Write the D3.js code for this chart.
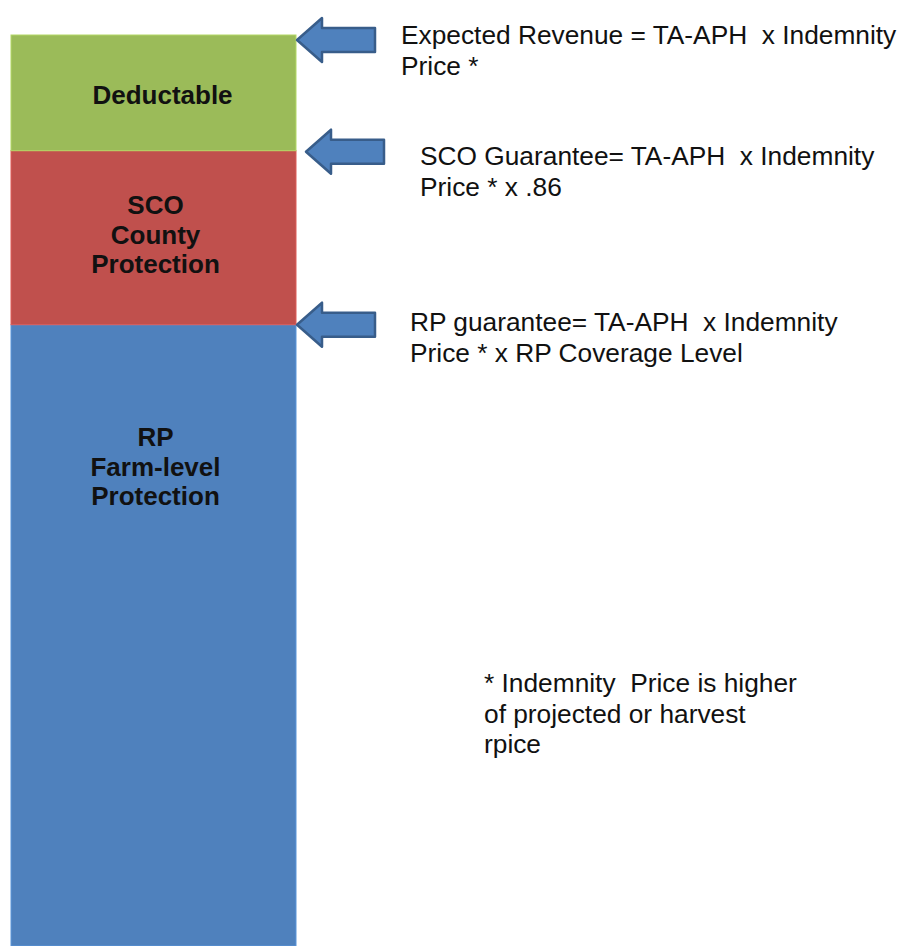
<!DOCTYPE html>
<html>
<head>
<meta charset="utf-8">
<script src="https://cdn.jsdelivr.net/npm/d3@7"></script>
<style>
  html, body { margin: 0; padding: 0; background: #fff; }
  svg { display: block; }
  .seg-label { font-family: "Liberation Sans", Arial, sans-serif; font-weight: bold; font-size: 26px; fill: #111; }
  .note { font-family: "Liberation Sans", Arial, sans-serif; font-size: 26.3px; fill: #111; white-space: pre; }
</style>
</head>
<body>
<div id="chart"></div>
<script>
// segments, bottom to top (share of bar height, %)
const segments = ["RP", "SCO", "Deductable"];
const segmentValues = [68.2, 19.1, 12.7];
const segmentColors = ["#4F81BD", "#C0504D", "#9BBB59"];
const segmentLabels = [
    ["RP", "Farm-level", "Protection"],
    ["SCO", "County", "Protection"],
    ["Deductable"]
];

// annotations pointing at the top of each segment
const annotations = [
    ["RP guarantee= TA-APH  x Indemnity", "Price * x RP Coverage Level"],
    ["SCO Guarantee= TA-APH  x Indemnity", "Price * x .86"],
    ["Expected Revenue = TA-APH  x Indemnity", "Price *"]
];
const footnote = ["* Indemnity  Price is higher", "of projected or harvest", "rpice"];

const W = 899, H = 946;
const svg = d3.select("#chart").append("svg").attr("width", W).attr("height", H);

const x = d3.scaleBand().domain(["bar"]).range([11, 296]).padding(0);
const y = d3.scaleLinear().domain([0, 100]).range([946, 35]);

let acc = 0;
const data = segments.map((name, i) => {
    const d = { name, y0: acc, y1: acc + segmentValues[i], color: segmentColors[i], label: segmentLabels[i], note: annotations[i] };
    acc += segmentValues[i];
    return d;
});

svg.selectAll(".seg")
    .data(data)
    .enter()
    .append("rect")
    .attr("class", "seg")
    .attr("x", x("bar"))
    .attr("width", x.bandwidth())
    .attr("y", d => y(d.y1))
    .attr("height", d => y(d.y0) - y(d.y1))
    .attr("fill", d => d.color)
    .attr("stroke", d => d3.color(d.color).brighter(0.4))
    .attr("stroke-width", 1);

// labels inside the segments (slightly right of centre, like the slide)
const labelTop = { "RP": 446, "SCO": 214, "Deductable": 104 };
const labelShift = { "RP": 2, "SCO": 2, "Deductable": 9 };
data.forEach(d => {
    svg.append("text")
        .attr("class", "seg-label")
        .attr("text-anchor", "middle")
        .selectAll("tspan")
        .data(d.label)
        .enter()
        .append("tspan")
        .attr("x", x("bar") + x.bandwidth() / 2 + labelShift[d.name])
        .attr("y", (t, i) => labelTop[d.name] + i * 29.5)
        .text(t => t);
});

// block arrows pointing left at each boundary
function arrowPoints(tipX, cy) {
    const headW = 25, len = 78, headH = 22, bodyH = 12;
    return [
        [tipX, cy],
        [tipX + headW, cy - headH],
        [tipX + headW, cy - bodyH],
        [tipX + len, cy - bodyH],
        [tipX + len, cy + bodyH],
        [tipX + headW, cy + bodyH],
        [tipX + headW, cy + headH]
    ];
}
const arrowOffsets = { "RP": [297, 0], "SCO": [306, 1], "Deductable": [297, 5] };
const textPos = { "RP": [410, 331], "SCO": [420, 165], "Deductable": [401, 44] };

data.forEach(d => {
    const [ax, dy] = arrowOffsets[d.name];
    svg.append("polygon")
        .attr("points", arrowPoints(ax, y(d.y1) + dy).map(p => p.join(",")).join(" "))
        .attr("fill", "#4F81BD")
        .attr("stroke", "#385D8A")
        .attr("stroke-width", 2.5)
        .attr("stroke-linejoin", "round");

    const [tx, ty] = textPos[d.name];
    svg.append("text")
        .attr("class", "note")
        .selectAll("tspan")
        .data(d.note)
        .enter()
        .append("tspan")
        .attr("x", tx)
        .attr("y", (t, i) => ty + i * 30.5)
        .text(t => t);
});

svg.append("text")
    .attr("class", "note")
    .selectAll("tspan")
    .data(footnote)
    .enter()
    .append("tspan")
    .attr("x", 484)
    .attr("y", (t, i) => 692 + i * 30.5)
    .text(t => t);
</script>
</body>
</html>
